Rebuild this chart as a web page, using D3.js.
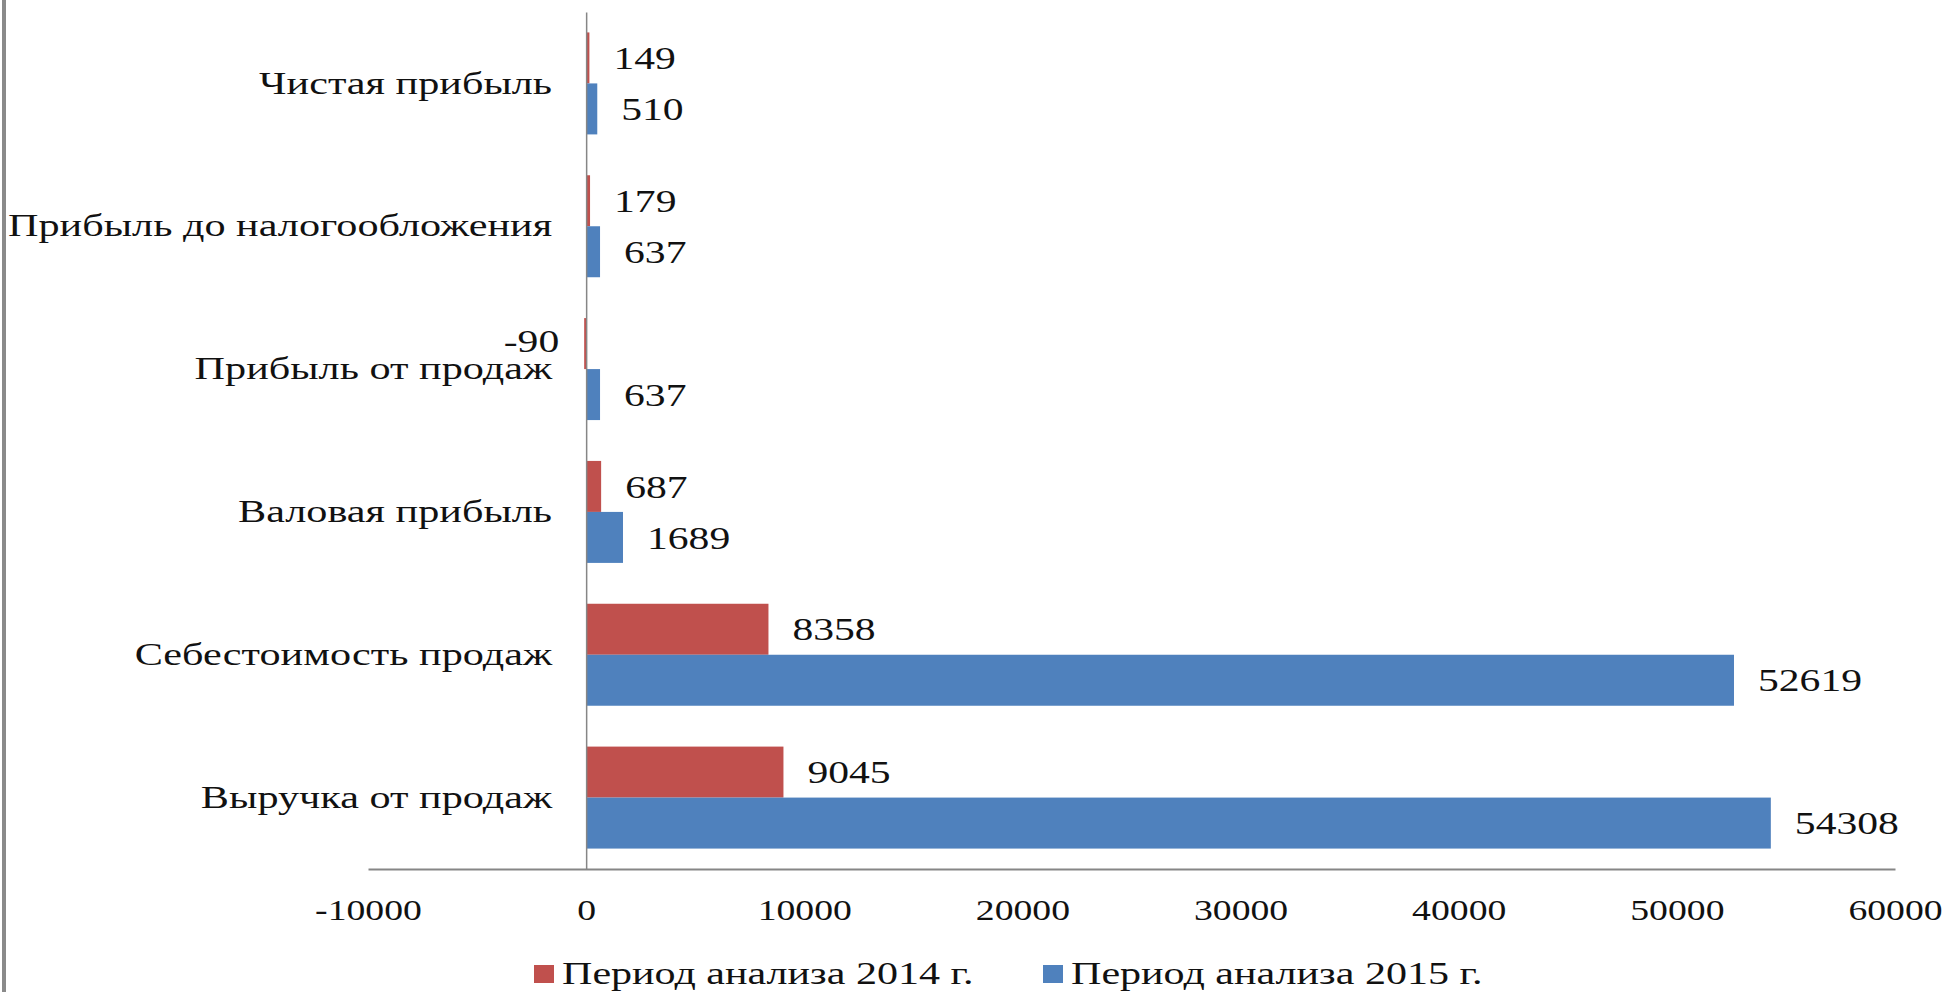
<!DOCTYPE html>
<html>
<head>
<meta charset="utf-8">
<script src="https://cdn.jsdelivr.net/npm/d3@7"></script>
<style>
  body { margin: 0; background: #fff; }
  svg text { font-family: "Liberation Serif", "Times New Roman", serif; fill: #111; }
</style>
</head>
<body>
<svg width="1951" height="992"></svg>
<script>
// data
var categories = ['Чистая прибыль', 'Прибыль до налогообложения', 'Прибыль от продаж',
                  'Валовая прибыль', 'Себестоимость продаж', 'Выручка от продаж'];
var series = ['Период анализа 2014 г.', 'Период анализа 2015 г.'];
var values2014 = [149, 179, -90, 687, 8358, 9045];
var values2015 = [510, 637, 637, 1689, 52619, 54308];
var tickValues = [-10000, 0, 10000, 20000, 30000, 40000, 50000, 60000];
var colors = ['#C0504D', '#4F81BD'];

var SX = 1.3; // text in the picture is stretched sideways
var svg = d3.select('svg');

// left frame edge
svg.append('rect')
    .attr('x', 2).attr('y', 0)
    .attr('width', 4).attr('height', 992)
    .attr('fill', '#8a8a8a');

var x = d3.scaleLinear()
    .domain([-10000, 60000])
    .range([368, 1895]);

var y = d3.scaleBand()
    .domain(categories)
    .range([12, 869])
    .paddingInner(0.286)
    .paddingOuter(0.143);

var ySub = d3.scaleBand()
    .domain([0, 1])
    .range([0, y.bandwidth()]);

var rows = categories.map(function(c, i) {
    return { cat: c, vals: [values2014[i], values2015[i]] };
});

// bars
var group = svg.selectAll('.cat')
    .data(rows)
    .enter()
    .append('g')
    .attr('class', 'cat')
    .attr('transform', function(d) { return 'translate(0,' + y(d.cat) + ')'; });

group.selectAll('rect')
    .data(function(d) { return d.vals; })
    .enter()
    .append('rect')
    .attr('x', function(d) { return x(Math.min(0, d)); })
    .attr('y', function(d, i) { return ySub(i); })
    .attr('width', function(d) { return Math.abs(x(d) - x(0)); })
    .attr('height', ySub.bandwidth())
    .attr('fill', function(d, i) { return colors[i]; });

// value labels
group.selectAll('text')
    .data(function(d) { return d.vals; })
    .enter()
    .append('text')
    .attr('text-anchor', function(d) { return d < 0 ? 'end' : 'start'; })
    .attr('dy', '0.35em')
    .attr('font-size', 32)
    .attr('transform', function(d, i) {
        var tx = d < 0 ? x(d) - 25 : x(d) + 24;
        var ty = ySub(i) + ySub.bandwidth() / 2 - (d < 0 ? 3 : 0);
        return 'translate(' + tx + ',' + ty + ') scale(' + SX + ',1)';
    })
    .text(function(d) { return d; });

// x axis
var xAxis = svg.append('g')
    .attr('transform', 'translate(0,869)')
    .call(d3.axisBottom(x).tickValues(tickValues).tickSize(0).tickSizeOuter(0)
        .tickFormat(function(d) { return String(d); }));
xAxis.attr('font-family', null);
xAxis.select('.domain').attr('stroke', '#868686').attr('stroke-width', 2);
xAxis.selectAll('text')
    .attr('font-size', 29)
    .attr('y', 0)
    .attr('dy', null)
    .attr('transform', 'translate(0,51) scale(' + SX + ',1)');

// y axis at zero
var yAxis = svg.append('g')
    .attr('transform', 'translate(' + x(0) + ',0)')
    .call(d3.axisLeft(y).tickSize(0).tickSizeOuter(0));
yAxis.attr('font-family', null);
yAxis.select('.domain').attr('stroke', '#868686').attr('stroke-width', 1.5);
yAxis.selectAll('text')
    .attr('font-size', 32)
    .attr('x', 0)
    .attr('transform', 'translate(-34,0) scale(1.32,1)');
svg.selectAll('.tick text').attr('fill', '#111');

// legend
var legendX = [534, 1043];
var legend = svg.selectAll('.legend')
    .data(series)
    .enter()
    .append('g')
    .attr('class', 'legend')
    .attr('transform', function(d, i) { return 'translate(' + legendX[i] + ',965)'; });

legend.append('rect')
    .attr('width', 20).attr('height', 18)
    .attr('fill', function(d, i) { return colors[i]; });

legend.append('text')
    .attr('font-size', 32)
    .attr('transform', 'translate(28,19) scale(1.315,1)')
    .text(function(d) { return d; });
</script>
</body>
</html>
